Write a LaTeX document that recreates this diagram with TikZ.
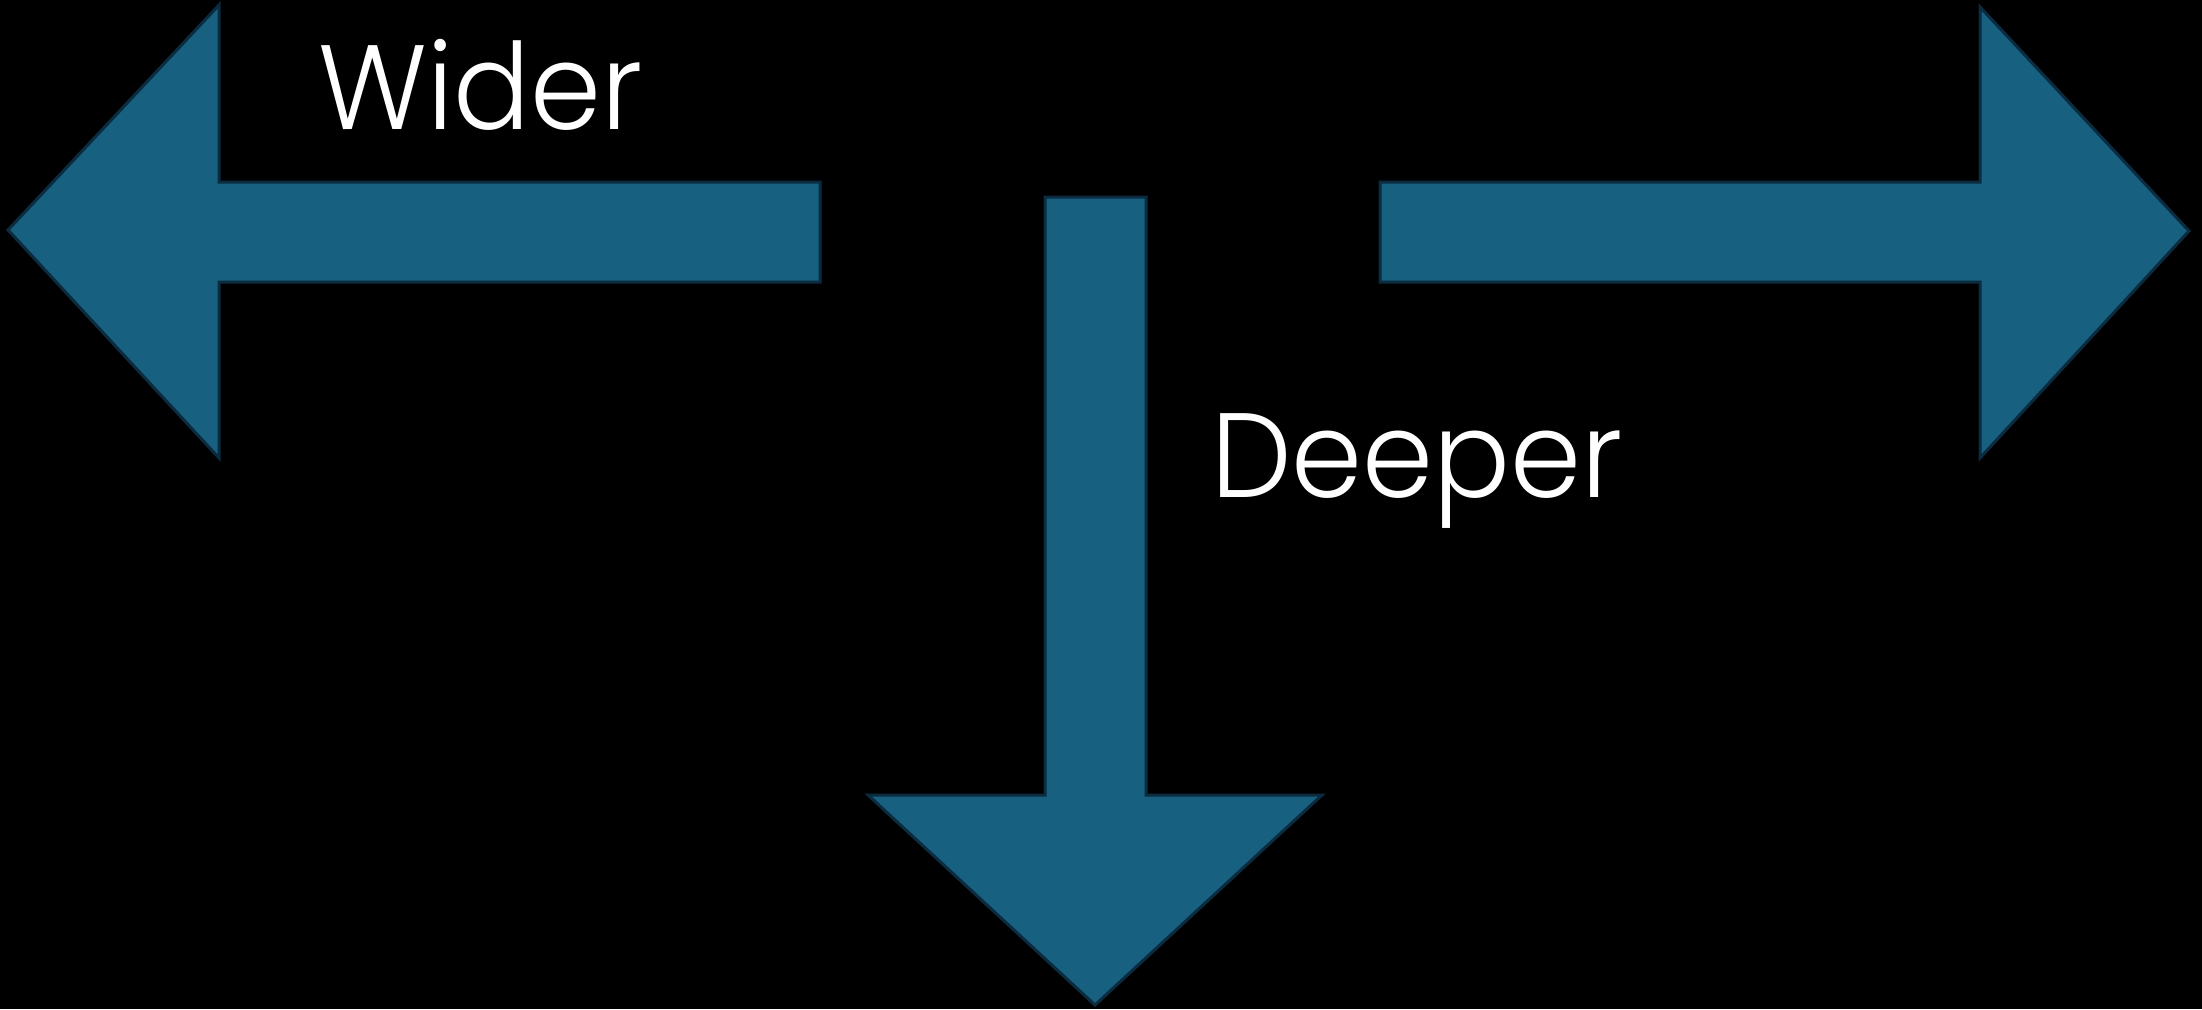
\documentclass[tikz,border=0pt]{standalone}
\usepackage{fontspec}
\setmainfont{Poppins Light}[FakeStretch=0.95]
\definecolor{arrowfill}{HTML}{17607F}
\definecolor{arrowedge}{HTML}{0B2C40}
\begin{document}
\begin{tikzpicture}[x=1pt,y=-1pt,
  arrowshape/.style={fill=arrowfill,draw=arrowedge,line width=3pt,line join=miter},
  lbltext/.style={text=white,font=\fontsize{120}{120}\selectfont,inner sep=0pt,anchor=base west}]
\fill[black] (0,0) rectangle (2202,1009);
\useasboundingbox (0,0) rectangle (2202,1009);
\draw[arrowshape] (8,230) -- (219,5) -- (219,182) -- (820,182) -- (820,282) -- (219,282) -- (219,458) -- cycle;
\draw[arrowshape] (2189,231) -- (1980,7) -- (1980,182) -- (1380,182) -- (1380,282) -- (1980,282) -- (1980,458) -- cycle;
\draw[arrowshape] (1095,1005) -- (868,795) -- (1045,795) -- (1045,197) -- (1146,197) -- (1146,795) -- (1322,795) -- cycle;
\node[lbltext] (wider) at (318,129) {Wider};
\node[lbltext] (deeper) at (1211,497) {Deeper};
\end{tikzpicture}
\end{document}
